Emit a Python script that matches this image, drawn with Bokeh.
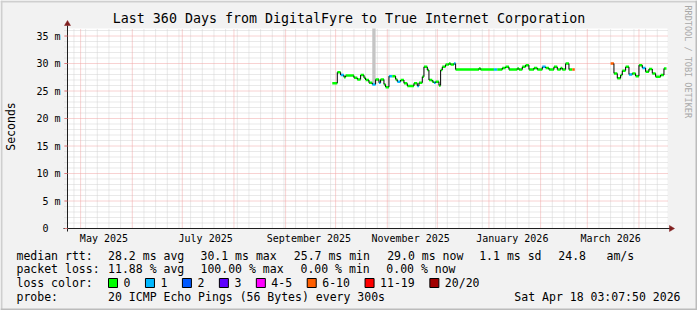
import pandas as pd
from math import pi
from bokeh.plotting import figure
from bokeh.models import Range1d
from bokeh.core.properties import value
from bokeh.embed import file_html
from bokeh.resources import INLINE

# ---------------- data ----------------
title_text = "Last 360 Days from DigitalFyre to True Internet Corporation"
range_start = "2025-04-23 03:07:50"
range_end = "2026-04-18 03:07:50"

dates = [
    "2025-09-29", "2025-10-02", "2025-10-04", "2025-10-06", "2025-10-07", "2025-10-12",
    "2025-10-14", "2025-10-16", "2025-10-18", "2025-10-19", "2025-10-21", "2025-10-23",
    "2025-10-25", "2025-10-27", "2025-10-28", "2025-10-30", "2025-10-31", "2025-11-02",
    "2025-11-04", "2025-11-06", "2025-11-07", "2025-11-09", "2025-11-11", "2025-11-13",
    "2025-11-17", "2025-11-19", "2025-11-20", "2025-11-22", "2025-11-23", "2025-11-25",
    "2025-11-26", "2025-11-28", "2025-11-29", "2025-11-30", "2025-12-02", "2025-12-03",
    "2025-12-04", "2025-12-06", "2025-12-08", "2025-12-09", "2025-12-11", "2025-12-12",
    "2025-12-26", "2025-12-27", "2026-01-04", "2026-01-06", "2026-01-09", "2026-01-11",
    "2026-01-13", "2026-01-18", "2026-01-19", "2026-01-21", "2026-01-23", "2026-01-25",
    "2026-01-28", "2026-01-30", "2026-02-02", "2026-02-04", "2026-02-06", "2026-02-09",
    "2026-02-11", "2026-02-13", "2026-02-14", "2026-02-16", "2026-02-18", "2026-02-20",
    "2026-02-21 12:00",
    "2026-03-15", "2026-03-17", "2026-03-19", "2026-03-21", "2026-03-22", "2026-03-24",
    "2026-03-26", "2026-03-28", "2026-03-30", "2026-04-01", "2026-04-03", "2026-04-05",
    "2026-04-07", "2026-04-09", "2026-04-11", "2026-04-14", "2026-04-16", "2026-04-17 12:00",
]
median_ms = [
    26.4, 28.4, 27.9, 27.5, 27.8, 27.4,
    27.1, 27.9, 27.4, 27.0, 26.5, 26.2,
    27.1, 26.5, 27.1, 26.2, 25.7, 27.7,
    27.7, 27.1, 26.7, 27.0, 26.4, 25.9,
    26.4, 25.9, 26.5, 27.6, 29.4, 28.8,
    27.0, 26.7, 26.5, 26.7, 26.0, 28.8,
    29.4, 29.8, 30.0, 29.8, 30.0, 28.9,
    29.1, 28.9, 28.9, 28.9, 29.2, 29.4,
    28.9, 29.1, 28.9, 29.4, 29.7, 28.9,
    29.2, 28.9, 29.4, 29.2, 28.9, 29.4,
    28.9, 29.2, 28.9, 30.0, 28.9, 28.9,
    None,
    30.0, 28.2, 27.3, 27.9, 28.7, 29.4,
    28.0, 28.2, 27.7, 29.7, 29.2, 28.5,
    29.0, 28.2, 27.6, 27.9, 29.1, None,
]
loss_class = [
    0, 0, 1, 0, 0, 0,
    0, 0, 0, 0, 0, 1,
    0, 1, 0, 0, 0, 1,
    0, 0, 1, 0, 0, 0,
    0, 1, 0, 0, 0, 0,
    0, 0, 1, 0, 0, 0,
    0, 0, 0, 0, 1, 0,
    0, 0, 1, 0, 0, 0,
    0, 0, 0, 0, 0, 0,
    0, 0, 1, 0, 0, 0,
    0, 0, 0, 0, 0, 5,
    0,
    5, 0, 0, 0, 0, 0,
    1, 0, 0, 0, 1, 0,
    0, 0, 0, 0, 0, 0,
]

smoke_dates = ["2025-10-23"]
smoke_low_ms = [26.2]
smoke_high_ms = [36.4]

loss_labels = ["0", "1", "2", "3", "4-5", "6-10", "11-19", "20/20"]
loss_colors = ["#00ff00", "#00b8ff", "#0059ff", "#5e00ff", "#ff00ff", "#ff5e00", "#ff0000", "#a10000"]

y_tick_values = [0, 5, 10, 15, 20, 25, 30, 35]
y_tick_labels = ["0\u00a0\u00a0", "5 m", "10 m", "15 m", "20 m", "25 m", "30 m", "35 m"]
x_label_dates = ["2025-05-15", "2025-07-15", "2025-09-15", "2025-11-15", "2026-01-15", "2026-03-15"]
x_tick_labels = ["May 2025", "July 2025", "September 2025", "November 2025", "January 2026", "March 2026"]

y_axis_label = "Seconds"
watermark = "RRDTOOL / TOBI OETIKER"
rtt_row = ["median rtt:", "28.2 ms avg", "30.1 ms max", "25.7 ms min", "29.0 ms now", "1.1 ms sd", "24.8", "am/s"]
loss_row = ["packet loss:", "11.88 % avg", "100.00 % max", "0.00 % min", "0.00 % now"]
loss_color_title = "loss color:"
probe_label = "probe:"
probe_text = "20 ICMP Echo Pings (56 Bytes) every 300s"
timestamp_text = "Sat Apr 18 03:07:50 2026"

# ---------------- layout ----------------
W, H = 697, 310
PL, PR, PT, PB = 67, 667, 28, 228      # plot area on the canvas (px)
PX_PER_MS = 5.5                        # vertical scale: px per millisecond
MONO = "DejaVu Sans Mono"

t0 = float(pd.Timestamp(range_start).value // 10**6)
t1 = float(pd.Timestamp(range_end).value // 10**6)
k = (PR - PL) / (t1 - t0)             # px per epoch-ms


def ms(d):
    return float(pd.Timestamp(d).value // 10**6)


def X(cx):  # canvas px -> time
    return t0 + (cx - PL) / k


def Y(cy):  # canvas px -> milliseconds
    return (PB - cy) / PX_PER_MS


y_top = Y(PT)

p = figure(width=W, height=H, output_backend="svg", toolbar_location=None,
           x_range=Range1d(X(0), X(W)), y_range=Range1d(Y(H), Y(0)),
           x_axis_location=None, y_axis_location=None, min_border=0)
p.grid.visible = False
p.outline_line_color = None
p.background_fill_color = "#f2f2f2"
p.border_fill_color = "#f2f2f2"

# canvas shading
p.quad(left=[X(0), X(0)], right=[X(W), X(2)], top=[Y(0), Y(0)], bottom=[Y(2), Y(H)],
       fill_color="#cfcfcf", line_color=None)
p.quad(left=[X(W - 2), X(0)], right=[X(W), X(W)], top=[Y(0), Y(H - 2)], bottom=[Y(H), Y(H)],
       fill_color="#bcbcbc", line_color=None)

# plot canvas
p.quad(left=[t0], right=[t1], bottom=[0], top=[y_top], fill_color="#ffffff", line_color=None)

# grid
month_starts = [ms(d) for d in pd.date_range("2025-05-01", "2026-04-01", freq="MS")]
week_starts = [ms(d) for d in pd.date_range("2025-04-27", "2026-04-18", freq="7D")]
week_starts = [w for w in week_starts if all(abs(w - m) > 86400000 * 0.9 for m in month_starts)]
minor_y = [v for v in range(1, 37) if v % 5 != 0]
major_y = [v for v in y_tick_values if v > 0]

grid_minor = dict(line_color="#d2d2d2", line_dash="1 1", line_width=1)
grid_major = dict(line_color="#f0a4a4", line_dash="1 1", line_width=1)
p.segment(x0=week_starts, x1=week_starts, y0=[0] * len(week_starts), y1=[y_top] * len(week_starts),
          **grid_minor)
p.segment(x0=[X(PL - 3)] * len(minor_y), x1=[t1] * len(minor_y), y0=minor_y, y1=minor_y, **grid_minor)
p.segment(x0=month_starts, x1=month_starts, y0=[0] * len(month_starts), y1=[y_top] * len(month_starts),
          **grid_major)
p.segment(x0=[X(PL - 3)] * len(major_y), x1=[t1] * len(major_y), y0=major_y, y1=major_y, **grid_major)

# smoke
s_left = [ms(d) for d in smoke_dates]
s_right = [v + 2 * 86400000 for v in s_left]
p.quad(left=s_left, right=s_right, bottom=smoke_low_ms, top=[min(v, y_top) for v in smoke_high_ms],
       fill_color="#c4c4c4", line_color=None)

# median line (loss-coloured steps + dark risers)
t = [ms(d) for d in dates]
h_x0, h_x1, h_y, h_c = [], [], [], []
v_x, v_y0, v_y1 = [], [], []
for i in range(len(dates) - 1):
    if median_ms[i] is None:
        continue
    h_x0.append(t[i]); h_x1.append(t[i + 1]); h_y.append(median_ms[i])
    h_c.append(loss_colors[loss_class[i]])
    if median_ms[i + 1] is not None:
        v_x.append(t[i + 1]); v_y0.append(median_ms[i]); v_y1.append(median_ms[i + 1])
p.segment(x0=h_x0, y0=h_y, x1=h_x1, y1=h_y, line_color=h_c, line_width=2.5, line_cap="butt")
p.segment(x0=v_x, y0=v_y0, x1=v_x, y1=v_y1, line_color="#000000", line_width=1)

# axes with arrows
axis_col, arrow_col = "#1f1f1f", "#801f1f"
p.segment(x0=[X(PL - 4), t0], x1=[X(PR + 3), t0], y0=[0, Y(PB + 3)], y1=[0, Y(PT - 3)],
          line_color=axis_col, line_width=1)
p.patches(xs=[[X(PR + 2), X(PR + 7), X(PR + 2)], [X(PL - 3), X(PL), X(PL + 3)]],
          ys=[[Y(PB - 3), Y(PB), Y(PB + 3)], [Y(PT - 3), Y(PT - 8), Y(PT - 3)]],
          fill_color=arrow_col, line_color=arrow_col, line_width=0.5)

# y ticks (short marks outside the axis)
p.segment(x0=[X(PL - 3)] * len(y_tick_values), x1=[t0] * len(y_tick_values),
          y0=y_tick_values, y1=y_tick_values, line_color="#e08080", line_width=1)


def text(txts, xs, ys, size="11.5px", align="left", color="#000000", angle=0.0, baseline="middle"):
    p.text(x=xs, y=ys, text=txts, text_font=value(MONO), text_font_size=value(size),
           text_align=align, text_baseline=baseline, text_color=color, angle=angle)


# tick labels
text(y_tick_labels, [X(PL - 7)] * len(y_tick_values), y_tick_values, size="10px", align="right")
text(x_tick_labels, [ms(d) for d in x_label_dates], [Y(PB + 10)] * len(x_label_dates),
     size="10px", align="center")
text([y_axis_label], [X(10.5)], [Y(126)], size="11.5px", align="center", angle=pi / 2)

# title & watermark
text([title_text], [X(W / 2)], [Y(18)], size="13.3px", align="center")
text([watermark], [X(687)], [Y(5)], size="8.5px", align="left", color="#a8a8a8", angle=-pi / 2)

# legend rows
rtt_x = [16, 107.6, 200, 293.3, 386.7, 478.7, 557.8, 606]
text(rtt_row, [X(c) for c in rtt_x], [Y(255)] * len(rtt_row))
loss_x = [16, 107.6, 200, 300, 385.8]
text(loss_row, [X(c) for c in loss_x], [Y(268.5)] * len(loss_row))
text([loss_color_title], [X(16)], [Y(282.3)])
bx, box_l, lab_x = 108.0, [], []
for lab in loss_labels:
    box_l.append(bx)
    lab_x.append(bx + 15)
    bx = bx + 15 + len(lab) * 6.96 + 15
p.quad(left=[X(b) for b in box_l], right=[X(b + 9) for b in box_l],
       top=[Y(278)] * len(box_l), bottom=[Y(287)] * len(box_l),
       fill_color=loss_colors, line_color="#000000", line_width=1)
text(loss_labels, [X(c) for c in lab_x], [Y(282.3)] * len(loss_labels))
text([probe_label, probe_text], [X(16), X(107.6)], [Y(296), Y(296)])
text([timestamp_text], [X(680)], [Y(296)], align="right")

open("out.html", "w").write(file_html(p, INLINE))
